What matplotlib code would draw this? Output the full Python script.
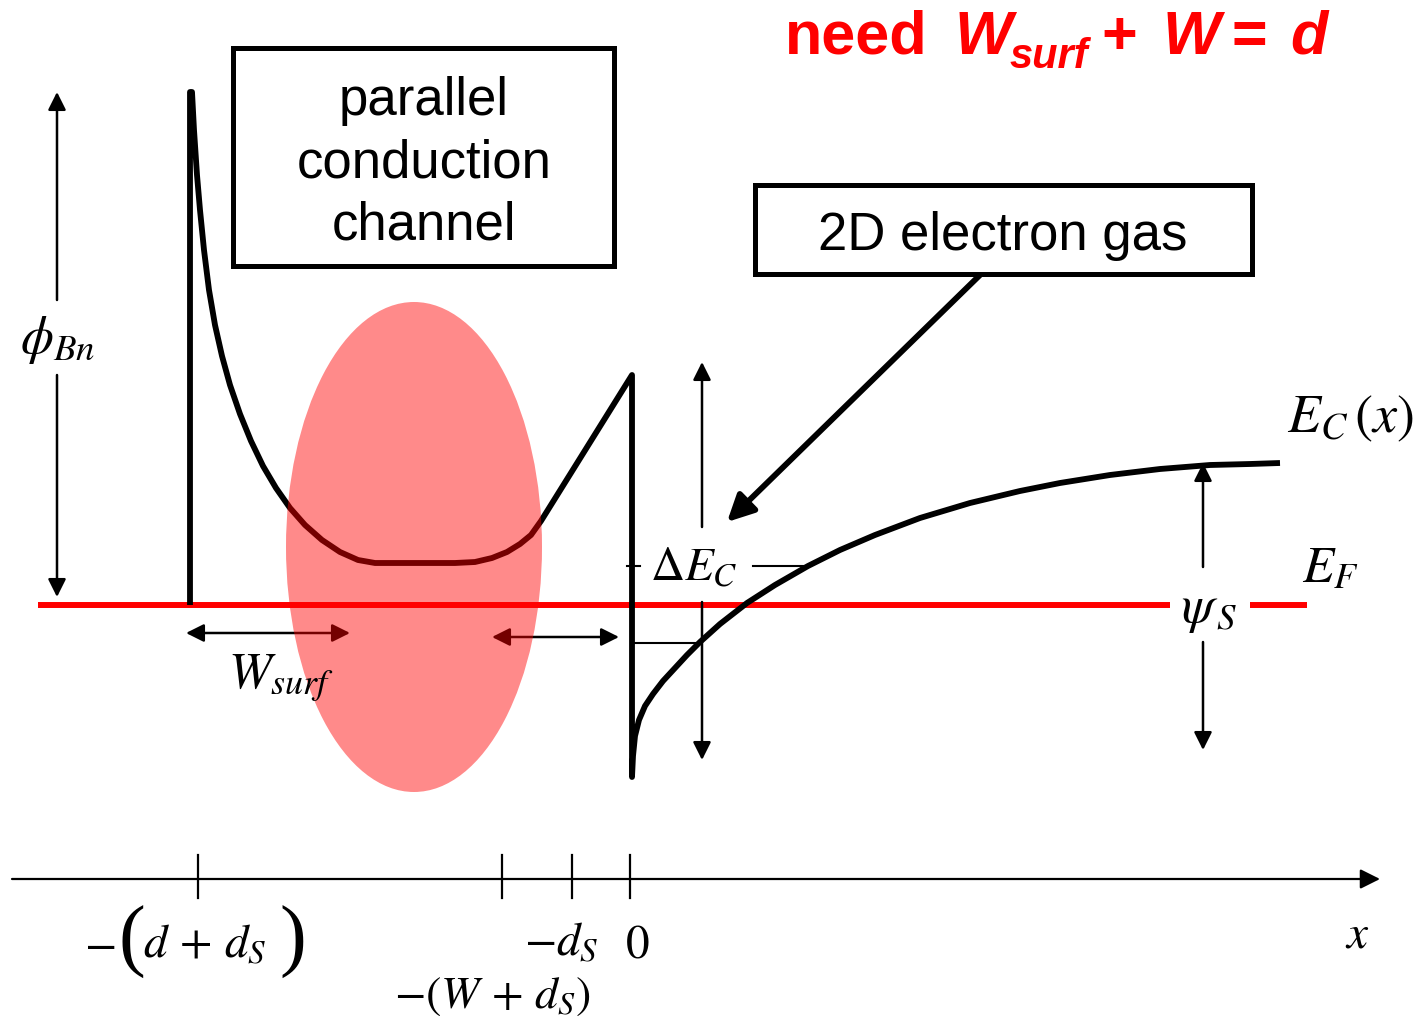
import matplotlib
matplotlib.use("Agg")
import matplotlib.pyplot as plt
from matplotlib.patches import Ellipse, Rectangle

plt.rcParams['mathtext.fontset'] = 'stix'
plt.rcParams['font.family'] = ['Liberation Sans', 'DejaVu Sans']

# diagram units = slide pixels, energy axis drawn downward like the slide
# barrier side of E_C (surface -> spacer), incl. the spike at the interface
barrier_x = [190, 190, 192, 194, 197, 200, 204, 209, 215, 222, 230, 240, 251, 263,
             276, 290, 305, 322, 340, 358, 375, 455, 475, 492, 507, 520, 531, 541,
             632, 632]
barrier_e = [605, 92, 92, 130, 175, 210, 250, 290, 325, 356, 385, 414, 441, 466,
             488, 508, 525, 540, 552, 560, 563, 563, 562, 558, 552, 544, 535, 521,
             375, 777]
# channel side of E_C (2DEG well -> bulk)
channel_x = [632, 633, 635, 639, 645, 653, 663, 675, 687, 700, 720, 747, 775, 808,
             840, 875, 920, 970, 1020, 1060, 1110, 1160, 1210, 1250, 1280]
channel_e = [777, 756, 736, 720, 706, 694, 681, 668, 655, 642, 624, 603, 585, 566,
             550, 535, 518, 503, 491, 483, 475, 469, 465, 464, 463]

ef_level = 605
ef_segments = [(38, 1170), (1250, 1307)]

# parallel conduction pool
pool_center = (414, 547)
pool_size = (256, 490)

# x axis
axis_y = 879
tick_pos = [198, 502, 572, 630]

fig = plt.figure(figsize=(14.27, 10.23), dpi=100)
ax = fig.add_axes([0, 0, 1, 1])
ax.set_xlim(0, 1427)
ax.set_ylim(1023, 0)
ax.axis('off')


def arrow(x0, y0, x1, y1, lw=1.8, ms=27, style='-|>', color='k', z=3):
    ax.annotate('', xy=(x1, y1), xytext=(x0, y0),
                arrowprops=dict(arrowstyle=style, lw=lw, color=color,
                                mutation_scale=ms, shrinkA=0, shrinkB=0),
                zorder=z)


# band edges
ax.plot(barrier_x + channel_x[1:], barrier_e + channel_e[1:], color='k', lw=4.2,
        solid_joinstyle='round', solid_capstyle='butt', zorder=3)

# Fermi level
for a, b in ef_segments:
    ax.plot([a, b], [ef_level, ef_level], color='red', lw=4.3, solid_capstyle='butt', zorder=2)

# phi_Bn
arrow(57, 300, 57, 92)
arrow(57, 375, 57, 597)
ax.text(58, 340, r'$\phi_{Bn}$', fontsize=38, ha='center', va='center')

# Delta E_C
arrow(702, 527, 702, 362)
arrow(702, 602, 702, 760)
ax.plot([627, 640], [566, 566], color='k', lw=1.5)
ax.plot([753, 808], [566, 566], color='k', lw=1.5)
ax.plot([633, 700], [643, 643], color='k', lw=1.5)
ax.text(650, 580, r'$\Delta E_C$', fontsize=34, ha='left', va='baseline')

# psi_S
arrow(1203, 567, 1203, 463)
arrow(1203, 642, 1203, 750)
ax.text(1181, 622, r'$\psi_{\,S}$', fontsize=38, ha='left', va='baseline')

ax.text(1287, 432, r'$E_C\,(x)$', fontsize=39, ha='left', va='baseline')
ax.text(1302, 582, r'$E_F$', fontsize=37, ha='left', va='baseline')

# widths
arrow(186, 633, 350, 633, style='<|-|>')
ax.text(228, 688, r'$W_{surf}$', fontsize=37, ha='left', va='baseline', zorder=6)
arrow(492, 637, 619, 637, style='<|-|>')

# pool of parallel conduction electrons
ax.add_patch(Ellipse(pool_center, pool_size[0], pool_size[1], color='red', alpha=0.46, lw=0, zorder=5))

# boxes
ax.add_patch(Rectangle((233, 48), 381, 218, fill=False, lw=3.6, ec='k', zorder=4))
for txt, yb in zip(['parallel', 'conduction', 'channel'], [115, 178, 240]):
    ax.text(424, yb, txt, fontsize=38, ha='center', va='baseline')
ax.add_patch(Rectangle((755, 185), 497, 89, fill=False, lw=3.6, ec='k', zorder=4))
ax.text(1003, 250, '2D electron gas', fontsize=38, ha='center', va='baseline')
arrow(980, 275, 727, 522, lw=4.2, ms=40)

# x axis
arrow(12, axis_y, 1380, axis_y, lw=1.6, ms=30)
for t in tick_pos:
    ax.plot([t, t], [855, 898], color='k', lw=1.6)
ax.text(84, 957, r'$-$', fontsize=34, ha='left', va='baseline')
ax.text(118, 962, '(', fontsize=58, family='Liberation Serif', ha='left', va='baseline')
ax.text(143, 957, r'$d\,+\,d_S$', fontsize=34, ha='left', va='baseline')
ax.text(279, 962, ')', fontsize=58, family='Liberation Serif', ha='left', va='baseline')
ax.text(561, 955, r'$-d_S$', fontsize=34, ha='center', va='baseline')
ax.text(637, 958, r'$0$', fontsize=34, ha='center', va='baseline')
ax.text(492, 1008, r'$-(W\,+\,d_S)$', fontsize=33, ha='center', va='baseline')
ax.text(1357, 947, r'$x$', fontsize=34, ha='center', va='baseline')

# headline
red = dict(color='red', fontweight='bold', va='baseline', ha='left')
ax.text(785, 54, 'need', fontsize=44, **red)
ax.text(955, 54, 'W', fontsize=44, style='italic', **red)
ax.text(1010, 68, 'surf', fontsize=30, style='italic', **red)
ax.text(1101, 54, '+', fontsize=44, **red)
ax.text(1163, 54, 'W', fontsize=44, style='italic', **red)
ax.text(1232, 54, '=', fontsize=44, **red)
ax.text(1290, 54, 'd', fontsize=44, style='italic', **red)

fig.savefig('out.png', dpi=100)
